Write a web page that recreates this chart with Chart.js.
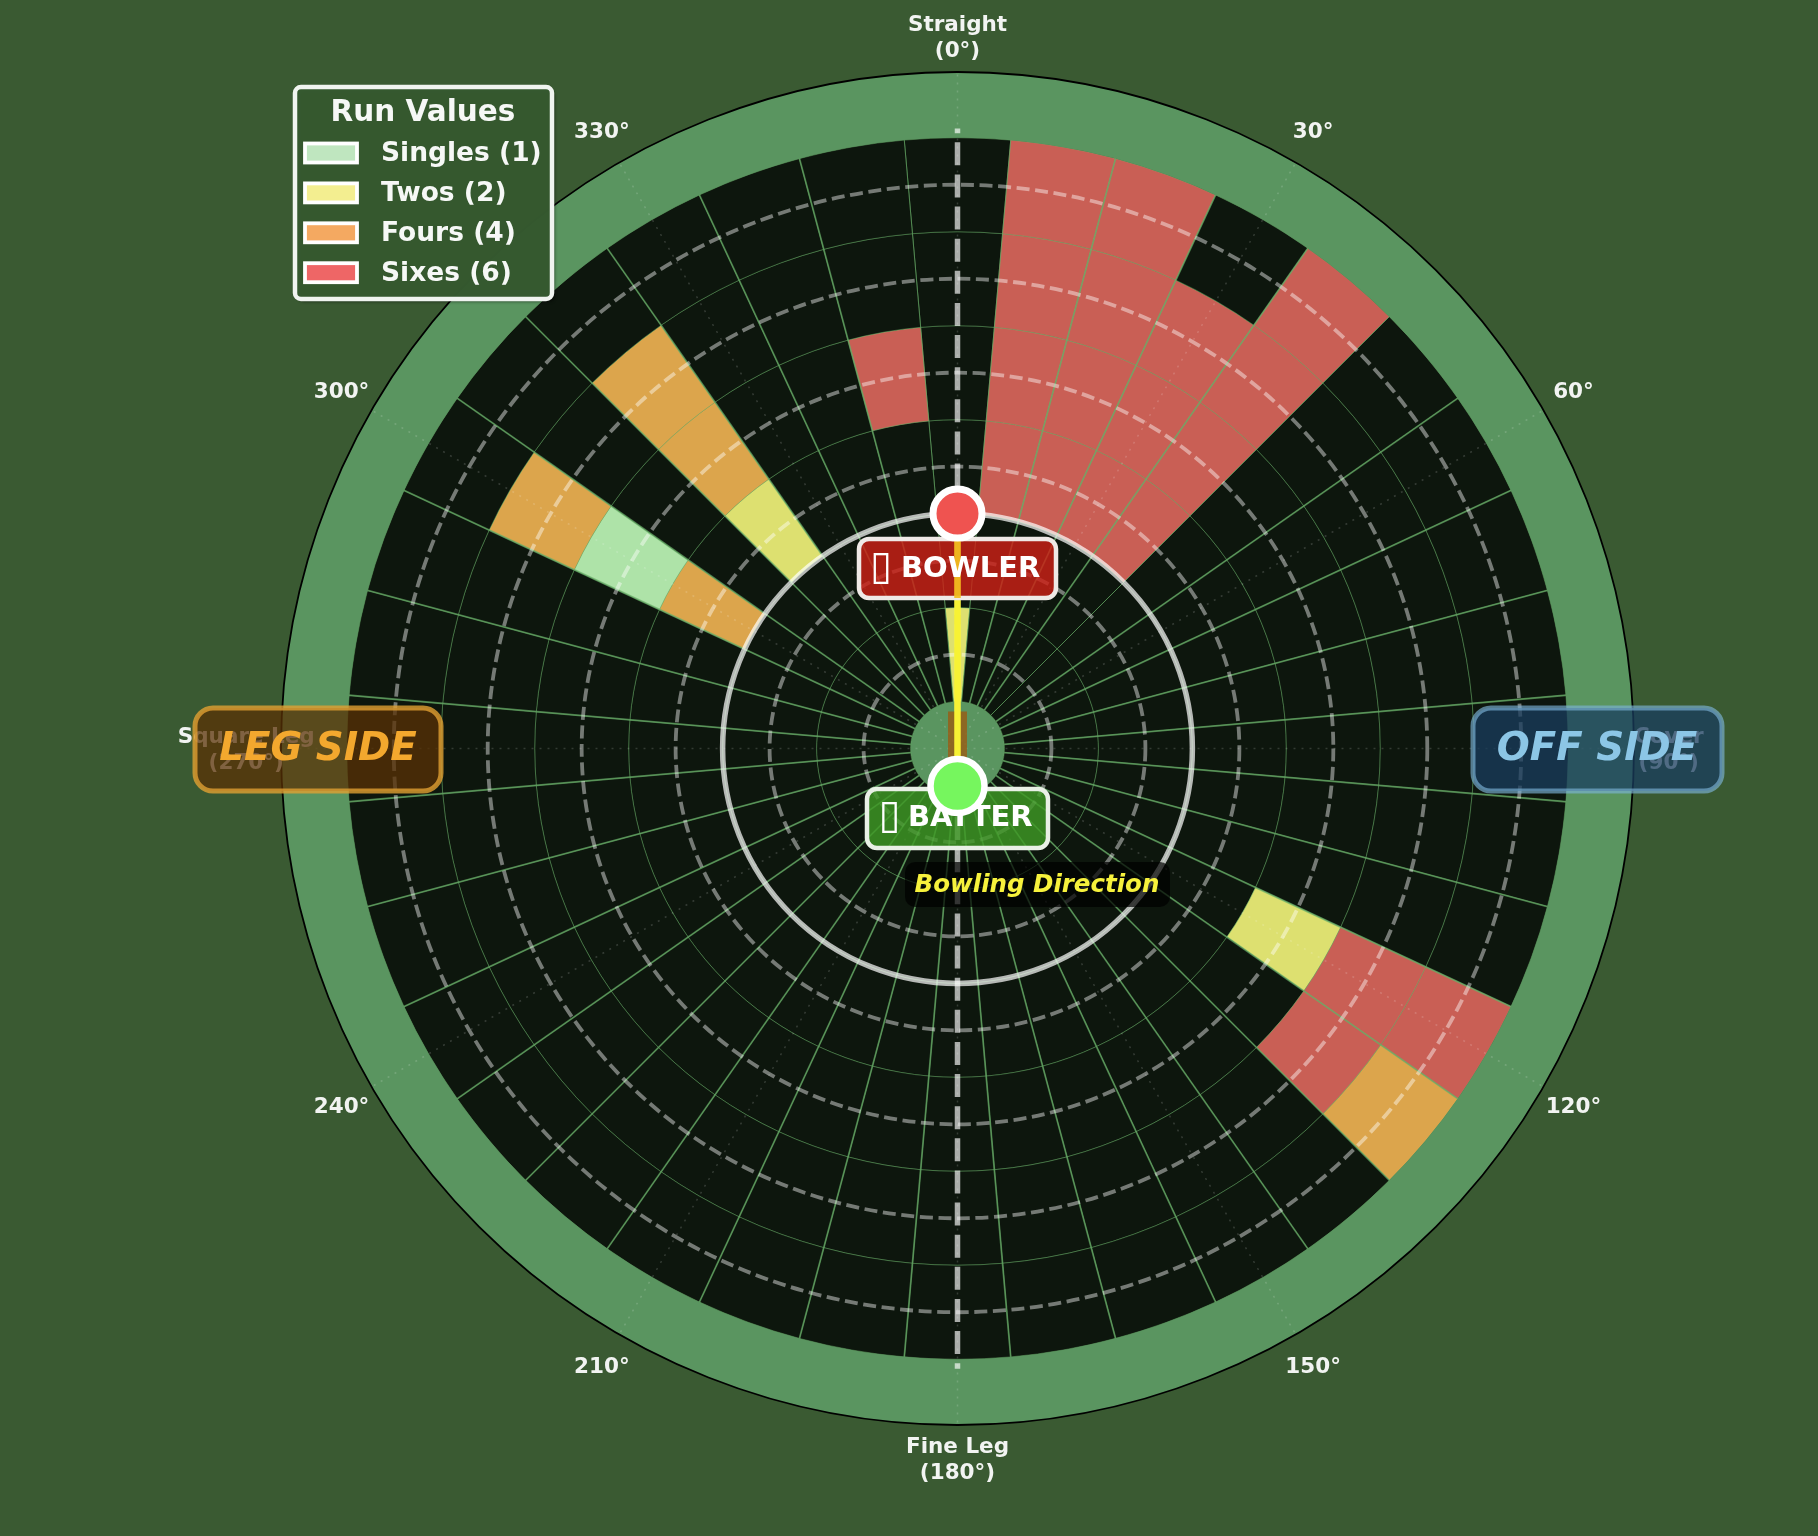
<!DOCTYPE html>
<html><head><meta charset="utf-8">
<style>html,body{margin:0;padding:0;background:#3a5a32}canvas{display:block;filter:blur(0.7px)}</style>
<script src="https://cdn.jsdelivr.net/npm/chart.js@4"></script>
</head><body><canvas id="c" width="1818" height="1536"></canvas>
<script>
// sector centres in degrees (clockwise from Straight)
const sectors=[0,10,20,30,40,50,60,70,80,90,100,110,120,130,140,150,160,170,180,190,200,210,220,230,240,250,260,270,280,290,300,310,320,330,340,350];
// run value per sector, one list per distance band (inner to outer)
const band05to15=[2,0,0,0,0,0,0,0,0,0,0,0,0,0,0,0,0,0,0,0,0,0,0,0,0,0,0,0,0,0,0,0,0,0,0,0];
const band15to25=[0,0,0,0,0,0,0,0,0,0,0,0,0,0,0,0,0,0,0,0,0,0,0,0,0,0,0,0,0,0,0,0,0,0,0,0];
const band25to35=[0,6,6,6,6,0,0,0,0,0,0,0,0,0,0,0,0,0,0,0,0,0,0,0,0,0,0,0,0,0,4,0,2,0,0,0];
const band35to45=[0,6,6,6,6,0,0,0,0,0,0,0,2,0,0,0,0,0,0,0,0,0,0,0,0,0,0,0,0,0,1,0,4,0,0,6];
const band45to55=[0,6,6,6,6,0,0,0,0,0,0,0,6,6,0,0,0,0,0,0,0,0,0,0,0,0,0,0,0,0,4,0,4,0,0,0];
const band55to65=[0,6,6,0,6,0,0,0,0,0,0,0,6,4,0,0,0,0,0,0,0,0,0,0,0,0,0,0,0,0,0,0,0,0,0,0];
const dashedRings=[1,2,3,4,5,6];
const angleTicks=[30,60,120,150,210,240,300,330];
const namedAngles=[[0,'Straight','(0°)'],[90,'Cover','(90°)'],[180,'Fine Leg','(180°)'],[270,'Square Leg','(270°)']];
const legendTitle='Run Values';
const legendLabels=['Singles (1)','Twos (2)','Fours (4)','Sixes (6)'];
const legendColors=['#bfe6bf','#f3ee90','#f4a961','#ee6666'];

const cellColor={0:'#0d160d',1:'#aee3a8',2:'#dde070',4:'#dca54c',6:'#c95f55'};
const ringGreen='#5a9560';
const gridCol='rgba(110,180,110,0.42)';
const F='"DejaVu Sans"';

function band(values){return {data:sectors.map(()=>1),weight:1,backgroundColor:values.map(v=>cellColor[v]),borderColor:gridCol,borderWidth:1};}
function disk(w){return {data:[1],weight:w,backgroundColor:ringGreen,borderWidth:0};}

function rr(ctx,x,y,w,h,r,fill,stroke,lw){ctx.beginPath();ctx.roundRect(x,y,w,h,r);if(fill){ctx.fillStyle=fill;ctx.fill();}if(stroke){ctx.strokeStyle=stroke;ctx.lineWidth=lw;ctx.stroke();}}

const decor={id:'decor',afterDatasetsDraw(chart){
  const ctx=chart.ctx,o=chart.getDatasetMeta(0).data[0];
  const cx=o.x,cy=o.y,U=o.outerRadius/7.2;
  const P=(deg,r)=>{const a=deg*Math.PI/180;return [cx+Math.sin(a)*r*U,cy-Math.cos(a)*r*U];};
  ctx.save();
  // outer rim
  ctx.beginPath();ctx.arc(cx,cy,7.2*U,0,7);ctx.strokeStyle='#000';ctx.lineWidth=1.8;ctx.stroke();
  // spokes at sector edges
  ctx.strokeStyle='rgba(105,175,105,0.62)';
  sectors.forEach(s=>{const e=s+5;ctx.lineWidth=(e===5||e===355||e===45)?0.6:1.8;const a=P(e,.5),b=P(e,6.5);ctx.beginPath();ctx.moveTo(a[0],a[1]);ctx.lineTo(b[0],b[1]);ctx.stroke();});
  // dotted angular grid
  ctx.strokeStyle='rgba(255,255,255,0.16)';ctx.lineWidth=1.5;ctx.setLineDash([2,6]);
  for(let d=0;d<360;d+=30){const b=P(d,7.2);ctx.beginPath();ctx.moveTo(cx,cy);ctx.lineTo(b[0],b[1]);ctx.stroke();}
  // dashed distance rings
  ctx.strokeStyle='rgba(255,255,255,0.43)';ctx.lineWidth=3.8;ctx.setLineDash([13,5.6]);
  dashedRings.forEach(r=>{ctx.beginPath();ctx.arc(cx,cy,r*U,0,Math.PI*2);ctx.stroke();});
  ctx.setLineDash([]);
  // inner circle
  ctx.strokeStyle='rgba(255,255,255,0.7)';ctx.lineWidth=5.5;ctx.beginPath();ctx.arc(cx,cy,2.5*U,0,Math.PI*2);ctx.stroke();
  // vertical dashed
  ctx.strokeStyle='rgba(255,255,255,0.65)';ctx.lineWidth=5.5;ctx.setLineDash([23,9.13]);ctx.lineDashOffset=17.6;
  ctx.beginPath();ctx.moveTo(cx,cy+6.6*U);ctx.lineTo(cx,cy-6.6*U);ctx.stroke();ctx.setLineDash([]);ctx.lineDashOffset=0;
  // pitch and delivery line
  ctx.fillStyle='rgba(150,95,25,0.85)';ctx.fillRect(cx-9.5,cy-37,19,47);
  const bw=P(0,2.5),bt=P(180,.4);
  ctx.strokeStyle='#f7f234';ctx.lineWidth=6.5;ctx.beginPath();ctx.moveTo(bw[0],bw[1]);ctx.lineTo(bt[0],bt[1]);ctx.stroke();
  // angle labels
  ctx.fillStyle='#f2f4f2';ctx.textAlign='center';ctx.textBaseline='middle';ctx.font='bold 21.5px '+F;
  angleTicks.forEach(d=>{const p=P(d,7.57);ctx.fillText(d+'°',p[0],p[1]+(d>90&&d<270?3:0));});
  namedAngles.forEach(n=>{const p=P(n[0],7.57);const s=n[0]===90||n[0]===270?2:1;ctx.fillText(n[1],p[0],p[1]-13+s);ctx.fillText(n[2],p[0],p[1]+13+s);});
  // side boxes
  rr(ctx,195,708,246,83,18,'rgba(90,49,6,0.75)','rgba(225,160,50,0.8)',5);
  ctx.fillStyle='#f3a82e';ctx.font='italic bold 38.8px '+F;ctx.fillText('LEG SIDE',318,750);
  rr(ctx,1473,708,249,83,18,'rgba(25,62,95,0.75)','rgba(125,180,215,0.65)',5);
  ctx.fillStyle='#8cc6e6';ctx.fillText('OFF SIDE',1597,750);
  // bowler / batter boxes
  rr(ctx,859,539,197,59,10,'rgba(204,32,22,0.82)','#efe9e6',4.5);
  rr(ctx,867,789,181,59,10,'rgba(62,152,36,0.82)','#e9f0e6',4.5);
  ctx.strokeStyle='rgba(240,190,30,0.92)';ctx.lineWidth=6.5;ctx.beginPath();ctx.moveTo(bw[0],bw[1]);ctx.lineTo(bw[0],598);ctx.stroke();
  ctx.fillStyle='#fff';ctx.font='40px '+F;
  ctx.fillText('\u25AF',881,569);ctx.fillText('\u25AF',889.5,818);
  ctx.font='bold 29px '+F;ctx.textAlign='left';
  ctx.fillText('BOWLER',901,569);ctx.fillText('BATTER',908,818);
  ctx.textAlign='center';
  // bowling direction
  rr(ctx,905,862,265,45,10,'rgba(0,0,0,0.7)');
  ctx.fillStyle='#f7f23c';ctx.font='italic bold 24.5px '+F;ctx.fillText('Bowling Direction',1037,886);
  // markers
  const dot=(p,r,c,lw)=>{ctx.beginPath();ctx.arc(p[0],p[1],r,0,Math.PI*2);ctx.fillStyle=c;ctx.fill();ctx.strokeStyle='#fff';ctx.lineWidth=lw;ctx.stroke();};
  dot(bw,24.5,'#ef5350',7);dot(bt,27,'#76f65e',6.5);
  // legend
  ctx.save();ctx.shadowColor='rgba(0,0,0,0.45)';ctx.shadowOffsetX=3;ctx.shadowOffsetY=3;ctx.shadowBlur=3;
  rr(ctx,295,87,257,212,6,'rgba(54,90,48,0.97)');ctx.restore();
  rr(ctx,295,87,257,212,6,null,'#f0f4f0',4.5);
  ctx.fillStyle='#f6f8f6';ctx.textAlign='center';ctx.font='bold 29.5px '+F;ctx.fillText(legendTitle,423,113);
  ctx.textAlign='left';ctx.font='bold 26.5px '+F;
  legendLabels.forEach((t,i)=>{
    const py=153+i*39.9;
    ctx.fillStyle=legendColors[i];ctx.fillRect(305,py-9.5,52,19);
    ctx.strokeStyle='#fff';ctx.lineWidth=3.8;ctx.strokeRect(305,py-9.5,52,19);
    ctx.fillStyle='#f6f8f6';ctx.fillText(t,381,154.5+i*40);});
  ctx.restore();
}};

new Chart(document.getElementById('c'),{
  type:'doughnut',
  data:{labels:sectors.map(String),datasets:[disk(0.7),band(band55to65),band(band45to55),band(band35to45),band(band25to35),band(band15to25),band(band05to15),disk(0.5)]},
  options:{responsive:false,devicePixelRatio:1,animation:false,rotation:-5,cutout:0,
    layout:{padding:{left:281,right:184,top:72,bottom:111}},
    plugins:{legend:{display:false},tooltip:{enabled:false}},events:[]},
  plugins:[{id:'bg',beforeDraw(c){c.ctx.fillStyle='#3a5a32';c.ctx.fillRect(0,0,c.width,c.height);}},decor]
});
</script></body></html>
